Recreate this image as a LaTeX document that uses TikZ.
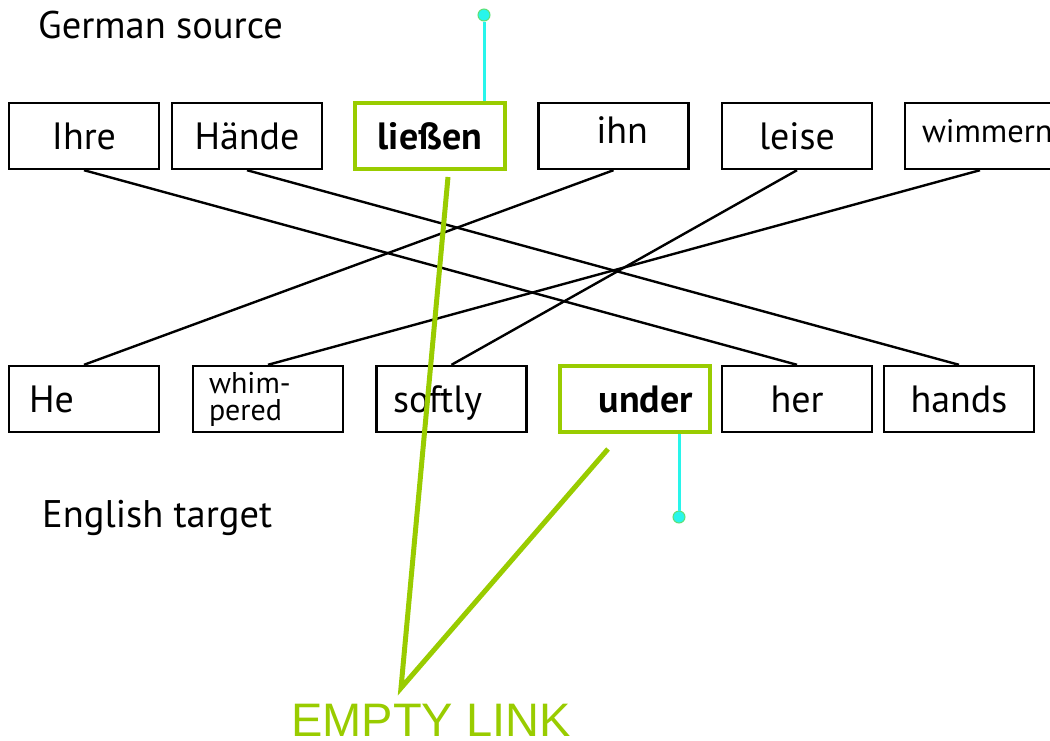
\documentclass[tikz,border=0pt]{standalone}
\usepackage{fontspec}
\setmainfont{PT Sans}
\newfontfamily\linkfont{Liberation Sans}

\definecolor{linkgreen}{RGB}{153,204,0}
\definecolor{gripcyan}{RGB}{40,245,235}

\begin{document}
\begin{tikzpicture}[x=1pt,y=-1pt]

\tikzset{%
every word/.style={
draw,
line width=2.4pt,
minimum width=150pt,
minimum height=66pt,
inner sep=0pt,
text height=27pt,
text depth=0pt,
font=\fontsize{38}{40}\selectfont
},
word marked/.style={
draw=linkgreen,
line width=4pt,
font=\fontsize{38}{40}\selectfont\bfseries
},
label text/.style={
anchor=base west,
inner sep=0pt,
font=\fontsize{38.5}{40}\selectfont
},
word link/.style={line width=2.4pt},
empty link/.style={linkgreen, line width=5pt},
grip/.style={circle, fill=gripcyan, draw=linkgreen!50!gripcyan, line width=1pt, minimum size=12pt, inner sep=0pt},
grip line/.style={gripcyan, line width=3pt},
% words that sit off the middle of their box
source 3/.style={word marked},
source 4/.style={text width=69pt, align=right, text height=20pt, text depth=6pt},
source 6/.style={text width=116pt, align=left, text height=16pt, text depth=4pt, font=\fontsize{32.5}{34}\selectfont},
target 1/.style={text width=110pt, align=left},
target 2/.style={text width=118pt, align=left, text height=, text depth=, font=\fontsize{30}{27}\selectfont},
target 3/.style={text width=117pt, align=left},
target 4/.style={word marked, text width=116pt, align=right},
}

\useasboundingbox (0,0) rectangle (1050,740);
\clip (0,0) rectangle (1050,740);

% Source sentence boxes
\foreach \w/\x [count=\y] in {Ihre/84, Hände/247, ließen/430, ihn/613.5, leise/797, wimmern/980}
\node [every word/.try, source \y/.try] (source-\y) at (\x,136) {\w};

% Target sentence boxes
\foreach \w/\x [count=\y] in {He/84, {whim-\\pered}/268, softly/451.5, under/635, her/797, hands/959}
\node [every word/.try, target \y/.try] (target-\y) at (\x,399) {\w};

% Row labels
\node [label text] (source-label) at (38,38) {German source};
\node [label text] (target-label) at (42,527) {English target};
\node [anchor=base west, inner sep=0pt, text=linkgreen, font=\linkfont\fontsize{47}{50}\selectfont] (empty-label) at (291,736) {EMPTY LINK};

% Word alignment links
\foreach \s/\t in {1/5, 2/6, 4/1, 5/3, 6/2}
\draw [word link] (source-\s.south) -- (target-\t.north);

% Unaligned words go to the empty link
\coordinate (empty) at (401,688);
\draw [empty link] ([xshift=18pt,yshift=-6pt]source-3.south) -- (empty) -- ([xshift=-27pt,yshift=-15pt]target-4.south);

% Grips on the marked words
\node [grip] (grip-top) at (484,15) {};
\node [grip] (grip-bottom) at (679,517) {};
\draw [grip line] (grip-top) -- (grip-top |- source-3.north);
\draw [grip line] (grip-bottom) -- (grip-bottom |- target-4.south);

\end{tikzpicture}
\end{document}
